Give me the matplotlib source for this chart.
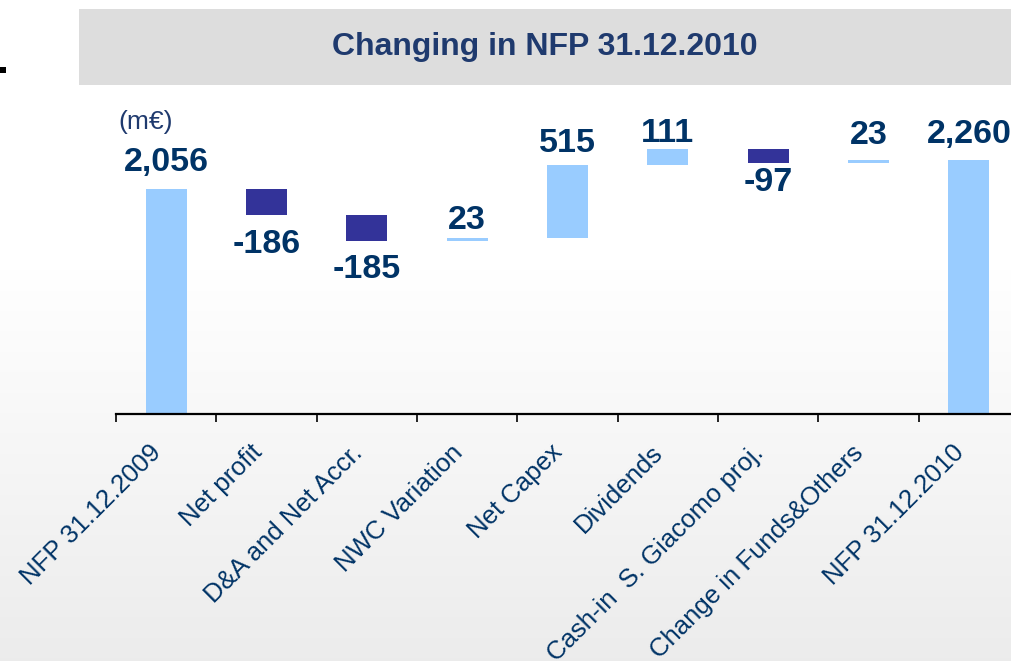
import matplotlib
matplotlib.use("Agg")
import matplotlib.pyplot as plt
import numpy as np
from matplotlib.patches import Rectangle

# ---------------- data ----------------
categories = ["NFP 31.12.2009", "Net profit", "D&A and Net Accr.", "NWC Variation",
              "Net Capex", "Dividends", "Cash-in  S. Giacomo proj.",
              "Change in Funds&Others", "NFP 31.12.2010"]
values = [2056, -186, -185, 23, 515, 111, -97, 23, 2260]
is_total = [True, False, False, False, False, False, False, False, True]
value_labels = ["2,056", "-186", "-185", "23", "515", "111", "-97", "23", "2,260"]
title_text = "Changing in NFP 31.12.2010"
unit_text = "(m\u20ac)"

# ---------------- style ----------------
W, H = 1012, 661
DPI = 100
LIGHT = "#99CCFF"
DARK = "#333399"
TXT = "#003366"
TITLE_C = "#1F3A6E"
label_offset_px = [26, 29, 28, 18, 21, 16, 19, 24, 25]

plt.rcParams["font.family"] = ["Liberation Sans", "DejaVu Sans"]

fig = plt.figure(figsize=(W / DPI, H / DPI), dpi=DPI)

# background gradient
bg = fig.add_axes([0, 0, 1, 1], zorder=0)
rows = np.linspace(0, 1, H)
start = 270 / H
t = np.clip((rows - start) / (1 - start), 0, 1)
shade = 1.0 - 0.075 * t
grad = np.repeat(shade[:, None], 2, axis=1)
img = np.dstack([grad, grad, grad])
bg.imshow(img, aspect="auto", extent=[0, 1, 0, 1], origin="upper")
bg.set_xlim(0, 1)
bg.set_ylim(0, 1)
bg.axis("off")

# title bar
bg.add_patch(Rectangle((79 / W, 1 - 85 / H), 1 - 79 / W, 76 / H,
                       facecolor="#DDDDDD", edgecolor="none", zorder=2))
bg.text(545 / W, 1 - 47 / H, title_text, ha="center", va="center",
        fontsize=23, fontweight="bold", color=TITLE_C, zorder=3)
# small black mark at left edge
bg.add_patch(Rectangle((0, 1 - 73 / H), 6 / W, 6 / H, facecolor="black",
                       edgecolor="none", zorder=3))
# unit label
bg.text(118 / W, 1 - 122 / H, unit_text, ha="left", va="center",
        fontsize=19, color=TITLE_C, zorder=3)

# main axes
y_min, y_max = 470, 2600
ax_bottom_px = 414
ax_top_px = ax_bottom_px - (y_max - y_min) / 7.04
ax = fig.add_axes([116 / W, 1 - ax_bottom_px / H, 903 / W,
                   (ax_bottom_px - ax_top_px) / H], zorder=1)
ax.patch.set_alpha(0)

x = np.arange(len(categories))
running = 0
bottoms, heights, colors, tops, lows = [], [], [], [], []
for v, tot in zip(values, is_total):
    if tot:
        b, h = 0, v
        running = v
        c = LIGHT
    else:
        b = min(running, running + v)
        h = abs(v)
        running += v
        c = LIGHT if v > 0 else DARK
    bottoms.append(b)
    heights.append(h)
    colors.append(c)
    tops.append(b + h)
    lows.append(b)

ax.bar(x, heights, bottom=bottoms, width=0.41, color=colors, edgecolor="none", zorder=2)

for i, (v, lab) in enumerate(zip(values, value_labels)):
    off = label_offset_px[i] * 72 / DPI
    if v >= 0:
        ax.annotate(lab, (x[i], tops[i]), xytext=(0, off), textcoords="offset points",
                    ha="center", va="center", fontsize=24.5, fontweight="bold",
                    color=TXT, annotation_clip=False)
    else:
        ax.annotate(lab, (x[i], lows[i]), xytext=(0, -off), textcoords="offset points",
                    ha="center", va="center", fontsize=24.5, fontweight="bold",
                    color=TXT, annotation_clip=False)

ax.set_xlim(-0.5, len(categories) - 0.5)
ax.set_ylim(y_min, y_max)
for s in ["top", "right", "left"]:
    ax.spines[s].set_visible(False)
ax.spines["bottom"].set_linewidth(1.6)
ax.spines["bottom"].set_zorder(3)
ax.set_yticks([])

ax.set_xticks(np.arange(-0.5, len(categories) + 0.5, 1.0))
ax.set_xticklabels([])
ax.tick_params(axis="x", which="major", length=6, width=1.2, color="black", direction="out")
ax.set_xticks(x, minor=True)
ax.set_xticklabels(categories, minor=True, rotation=45, ha="right",
                   fontsize=18.5, color=TXT)
ax.tick_params(axis="x", which="minor", length=0, pad=19)

fig.savefig("out.png", dpi=DPI)
